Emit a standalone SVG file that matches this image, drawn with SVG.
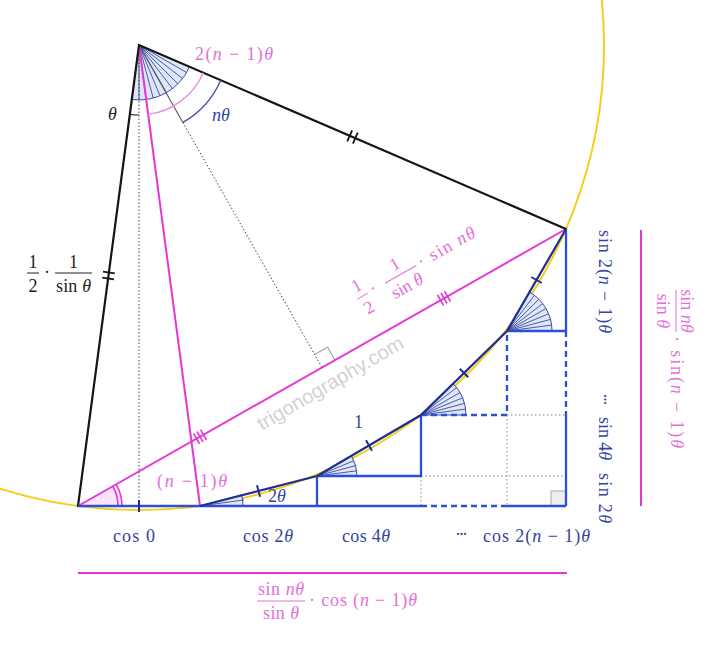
<svg xmlns="http://www.w3.org/2000/svg" width="720" height="662" viewBox="0 0 720 662">
<defs>
<style>
.blk{stroke:#151515;stroke-width:2.2;fill:none;stroke-linecap:round}
.mag{stroke:#e637d6;stroke-width:2;fill:none}
.leg{stroke:#2d4fd6;stroke-width:2.3;fill:none}
.legd{stroke:#2d4fd6;stroke-width:2.3;fill:none;stroke-dasharray:6 4}
.chord{stroke:#1f2f8f;stroke-width:2.2;fill:none}
.dot{stroke:#444;stroke-width:1;fill:none;stroke-dasharray:1.5 2}
.gdot{stroke:#aaa;stroke-width:1.3;fill:none;stroke-dasharray:1.5 2.5}
.tick{stroke:#1f2f8f;stroke-width:2;fill:none}
.mtick{stroke:#e637d6;stroke-width:1.6;fill:none}
.btick{stroke:#151515;stroke-width:1.8;fill:none}
.fan{fill:#dfe6f7;stroke:#3a4aa0;stroke-width:1}
.ray{stroke:#3a4aa0;stroke-width:0.9;fill:none}
.t{font-family:"Liberation Serif","DejaVu Serif",serif;font-size:18px}
.i{font-style:italic}
.bl{fill:#33449e}
.mg{fill:#e36fd9}
.bk{fill:#222}
.wm{font-family:"Liberation Sans",Arial,sans-serif;font-size:20px;fill:#d2d2d2}
</style>
</defs>
<rect width="720" height="662" fill="#fff"/>

<text class="wm" transform="translate(262,431) rotate(-30.4)" textLength="166" lengthAdjust="spacingAndGlyphs">trigonography.com</text>

<path id="circle" d="M0,488.7 A465,465 0 0 0 601.8,0" fill="none" stroke="#f2cf1d" stroke-width="2"/>

<g id="fans">
<path class="fan" d="M139,45 L131.8,99.5 A55,55 0 0 0 189.5,66.8 Z"/>
<path class="ray" d="M139,45 L139,100 M139,45 L146.2,99.5 M139,45 L153.2,98.1 M139,45 L160,95.8 M139,45 L166.5,92.6 M139,45 L172.5,88.6 M139,45 L177.9,83.9 M139,45 L182.6,78.5 M139,45 L186.6,72.5"/>
<path d="M78,506 L122,506 A44,44 0 0 0 116.3,484.3 Z" fill="#fbe3f8" stroke="none"/>
<path class="mtick" d="M118,506 A40,40 0 0 0 112.8,486.3 M122,506 A44,44 0 0 0 116.3,484.3"/>
<path class="fan" d="M200,506 L243,506 A43,43 0 0 0 241.5,494.9 Z"/>
<path class="ray" d="M200,506 L244,499.9"/>
<path class="fan" d="M317,476 L357,476 A40,40 0 0 0 351.6,456 Z"/>
<path class="ray" d="M317,476 L356.7,470.8 M317,476 L355.6,465.6 M317,476 L354,460.7"/>
<path class="fan" d="M421,415 L466,415 A45,45 0 0 0 452.8,383.2 Z"/>
<path class="ray" d="M421,415 L465.6,409.1 M421,415 L464.5,403.4 M421,415 L462.6,397.8 M421,415 L460,392.5 M421,415 L456.7,387.6"/>
<path class="fan" d="M507,331 L552,331 A45,45 0 0 0 529.5,292 Z"/>
<path class="ray" d="M507,331 L551.6,325.1 M507,331 L550.5,319.4 M507,331 L548.6,313.8 M507,331 L546,308.5 M507,331 L542.7,303.6 M507,331 L538.8,299.2 M507,331 L534.4,295.3"/>
</g>

<g id="connectors">
<path class="dot" d="M139,45 L139,506"/>
<path d="M139,45 L182.9,122.4" stroke="#555" stroke-width="1.1" fill="none"/>
<path class="dot" d="M182.9,122.4 L322,367.5"/>
<path d="M314.6,354.5 L327.6,347.1 L335,360.1" stroke="#888" stroke-width="1" fill="none"/>
<path class="gdot" d="M421,476 L421,506 M421,476 L566,476 M507,415 L507,506 M507,415 L566,415"/>
<rect x="551" y="491" width="15" height="15" fill="#eee" stroke="#aaa" stroke-width="1"/>
<path class="mag" d="M139,45 L200,506"/>
<path class="mag" d="M78,506 L566,229"/>
<path class="blk" d="M78,506 L139,45 L566,229"/>
<path class="leg" d="M78,506 L421,506 M507,506 L566,506 M317,476 L317,506 M317,476 L421,476 L421,415 M507,331 L566,331 M566,229 L566,331 M566,415 L566,506"/>
<path class="legd" d="M421,506 L507,506 M421,415 L507,415 L507,331 M566,331 L566,415"/>
<path class="chord" d="M200,506 L317,476 L421,415 L507,331 L566,229"/>
<path class="tick" d="M139,500 L139,512 M257,485.2 L260,496.8 M366,440.3 L372,450.7 M459.8,368.7 L468.2,377.3 M531.3,277 L541.7,283"/>
<path class="btick" d="M102.2,277.7 L114,279.3 M103,271.7 L114.8,273.3 M357.7,132.7 L352.9,143.7 M352.1,130.3 L347.3,141.3"/>
<path class="mtick" d="M193.6,433.5 L199.5,443.9 M197,431.5 L203,442 M200.5,429.6 L206.5,440 M437.5,295 L443.5,305.4 M441,293 L447,303.5 M444.5,291.1 L450.5,301.5"/>
<path d="M129.9,114.4 A70,70 0 0 0 139,115" stroke="#333" stroke-width="1.2" fill="none"/>
<path d="M148.1,114.4 A70,70 0 0 0 203.3,72.7" stroke="#ea8ee1" stroke-width="1.4" fill="none"/>
<path d="M182.9,122.4 A89,89 0 0 0 220.7,80.2" stroke="#3d4fa8" stroke-width="1.4" fill="none"/>
<path class="mag" d="M78,573 L567,573"/>
<path class="mag" d="M641,230 L641,506"/>
</g>

<g id="labels-top">
<text class="t mg" x="195" y="60" textLength="78">2(<tspan class="i">n</tspan> − 1)<tspan class="i">θ</tspan></text>
<text class="t bk i" x="108" y="120">θ</text>
<text class="t bl i" x="212" y="121">nθ</text>
<text class="t bl" x="354" y="428">1</text>
<text class="t mg" x="157" y="487" textLength="70">(<tspan class="i">n</tspan> − 1)<tspan class="i">θ</tspan></text>
<text class="t bl" x="268" y="502">2<tspan class="i">θ</tspan></text>
</g>

<g id="label-radius">
<text class="t bk" x="33" y="268" text-anchor="middle">1</text>
<path d="M27,273 L39,273" stroke="#222" stroke-width="1"/>
<text class="t bk" x="33" y="292" text-anchor="middle">2</text>
<text class="t bk" x="47" y="278" text-anchor="middle">·</text>
<text class="t bk" x="73.5" y="268" text-anchor="middle">1</text>
<path d="M55,273 L92,273" stroke="#222" stroke-width="1"/>
<text class="t bk" x="73.5" y="292" text-anchor="middle" textLength="35">sin <tspan class="i">θ</tspan></text>
</g>

<g id="label-half-chord" transform="translate(78,506) rotate(-29.6)">
<text class="t mg" x="351" y="-48" text-anchor="middle">1</text>
<path d="M345,-42 L357,-42" stroke="#e36fd9" stroke-width="1"/>
<text class="t mg" x="351" y="-23" text-anchor="middle">2</text>
<text class="t mg" x="364" y="-37.5" text-anchor="middle">·</text>
<text class="t mg" x="395" y="-48" text-anchor="middle">1</text>
<path d="M377,-42 L413,-42" stroke="#e36fd9" stroke-width="1"/>
<text class="t mg" x="395" y="-23" text-anchor="middle" textLength="34">sin <tspan class="i">θ</tspan></text>
<text class="t mg" x="416" y="-37.5" textLength="64">· sin <tspan class="i">nθ</tspan></text>
</g>

<g id="labels-bottom">
<text class="t bl" x="113" y="542" textLength="42">cos 0</text>
<text class="t bl" x="243" y="542" textLength="50">cos 2<tspan class="i">θ</tspan></text>
<text class="t bl" x="342" y="542" textLength="48">cos 4<tspan class="i">θ</tspan></text>
<text class="t bl" x="455" y="540" textLength="13">···</text>
<text class="t bl" x="483" y="542" textLength="107">cos 2(<tspan class="i">n</tspan> − 1)<tspan class="i">θ</tspan></text>
</g>

<g id="labels-right">
<text class="t bl" transform="translate(599,230) rotate(90)" textLength="103">sin 2(<tspan class="i">n</tspan> − 1)<tspan class="i">θ</tspan></text>
<text class="t bl" transform="translate(599,393) rotate(90)" textLength="13">···</text>
<text class="t bl" transform="translate(599,417) rotate(90)" textLength="43">sin 4<tspan class="i">θ</tspan></text>
<text class="t bl" transform="translate(599,473) rotate(90)" textLength="50">sin 2<tspan class="i">θ</tspan></text>
</g>

<g id="label-sum-sin" transform="translate(676,290) rotate(90)">
<text class="t mg" x="21" y="-5" text-anchor="middle">sin <tspan class="i">nθ</tspan></text>
<path d="M0,0 L42,0" stroke="#e36fd9" stroke-width="1"/>
<text class="t mg" x="21" y="19" text-anchor="middle">sin <tspan class="i">θ</tspan></text>
<text class="t mg" x="46" y="5" textLength="112">· sin(<tspan class="i">n</tspan> − 1)<tspan class="i">θ</tspan></text>
</g>

<g id="label-sum-cos">
<text class="t mg" x="281" y="595" text-anchor="middle" textLength="46">sin <tspan class="i">nθ</tspan></text>
<path d="M257,601 L305,601" stroke="#e36fd9" stroke-width="1"/>
<text class="t mg" x="281" y="619" text-anchor="middle" textLength="36">sin <tspan class="i">θ</tspan></text>
<text class="t mg" x="309" y="606" textLength="108">· cos (<tspan class="i">n</tspan> − 1)<tspan class="i">θ</tspan></text>
</g>
</svg>
